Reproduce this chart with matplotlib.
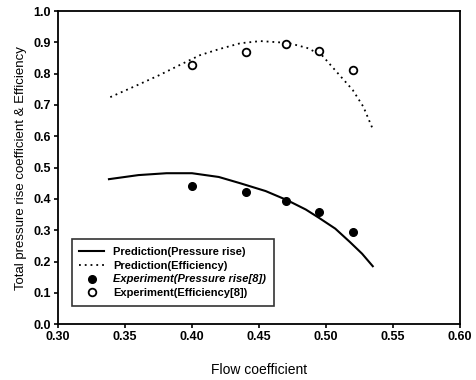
import matplotlib
matplotlib.use("Agg")
import matplotlib.pyplot as plt

plt.rcParams['font.family'] = ['Liberation Sans', 'DejaVu Sans']

# prediction curves
pred_flow_p = [0.338, 0.36, 0.381, 0.40, 0.42, 0.436, 0.455, 0.471, 0.485, 0.495, 0.507, 0.518, 0.527, 0.535]
pred_pressure = [0.463, 0.476, 0.482, 0.482, 0.470, 0.450, 0.425, 0.396, 0.366, 0.339, 0.305, 0.262, 0.225, 0.185]

pred_flow_e = [0.339, 0.358, 0.376, 0.392, 0.406, 0.42, 0.436, 0.451, 0.472, 0.486, 0.497, 0.510, 0.520, 0.528, 0.535]
pred_eff = [0.725, 0.761, 0.796, 0.830, 0.859, 0.878, 0.897, 0.904, 0.898, 0.882, 0.859, 0.796, 0.748, 0.694, 0.623]

# experiment [8]
exp_flow = [0.40, 0.44, 0.47, 0.495, 0.52]
exp_pressure = [0.441, 0.422, 0.393, 0.358, 0.294]
exp_eff = [0.827, 0.869, 0.895, 0.872, 0.811]

x_ticks = [0.30, 0.35, 0.40, 0.45, 0.50, 0.55, 0.60]
y_ticks = [0.0, 0.1, 0.2, 0.3, 0.4, 0.5, 0.6, 0.7, 0.8, 0.9, 1.0]

fig = plt.figure(figsize=(4.76, 3.80), dpi=100)
ax = fig.add_axes([0.122, 0.147, 0.844, 0.824])

ax.plot(pred_flow_p, pred_pressure, '-', color='black', lw=1.5, label='Prediction(Pressure rise)')
ax.plot(pred_flow_e, pred_eff, color='black', lw=1.3, dashes=(1, 2.2), label='Prediction(Efficiency)')
ax.plot(exp_flow, exp_pressure, 'o', color='black', ms=5.5, label='Experiment(Pressure rise[8])')
ax.plot(exp_flow, exp_eff, 'o', mfc='white', mec='black', mew=1.3, ms=5.5, label='Experiment(Efficiency[8])')

ax.set_xlim(0.30, 0.60)
ax.set_ylim(0.0, 1.0)
ax.set_xticks(x_ticks)
ax.set_yticks(y_ticks)
ax.set_xticklabels([f'{t:.2f}' for t in x_ticks], fontsize=9, fontweight='bold')
ax.set_yticklabels([f'{t:.1f}' for t in y_ticks], fontsize=9, fontweight='bold')
ax.tick_params(direction='out', length=3, width=1.2, pad=2)
for s in ax.spines.values():
    s.set_linewidth(1.3)

ax.set_xlabel('Flow coefficient', fontsize=10, labelpad=14)
ax.set_ylabel('Total pressure rise coefficient & Efficiency', fontsize=9.5, labelpad=5)

leg = ax.legend(loc='lower left', bbox_to_anchor=(0.02, 0.04), fontsize=8, frameon=True,
                fancybox=False, edgecolor='black', handlelength=2.2, borderpad=0.7,
                labelspacing=0.35, handletextpad=0.8)
leg.get_frame().set_linewidth(1.2)
texts = leg.get_texts()
texts[2].set_style('italic')
for t in texts:
    t.set_fontweight('bold')

fig.savefig('out.png', dpi=100)
